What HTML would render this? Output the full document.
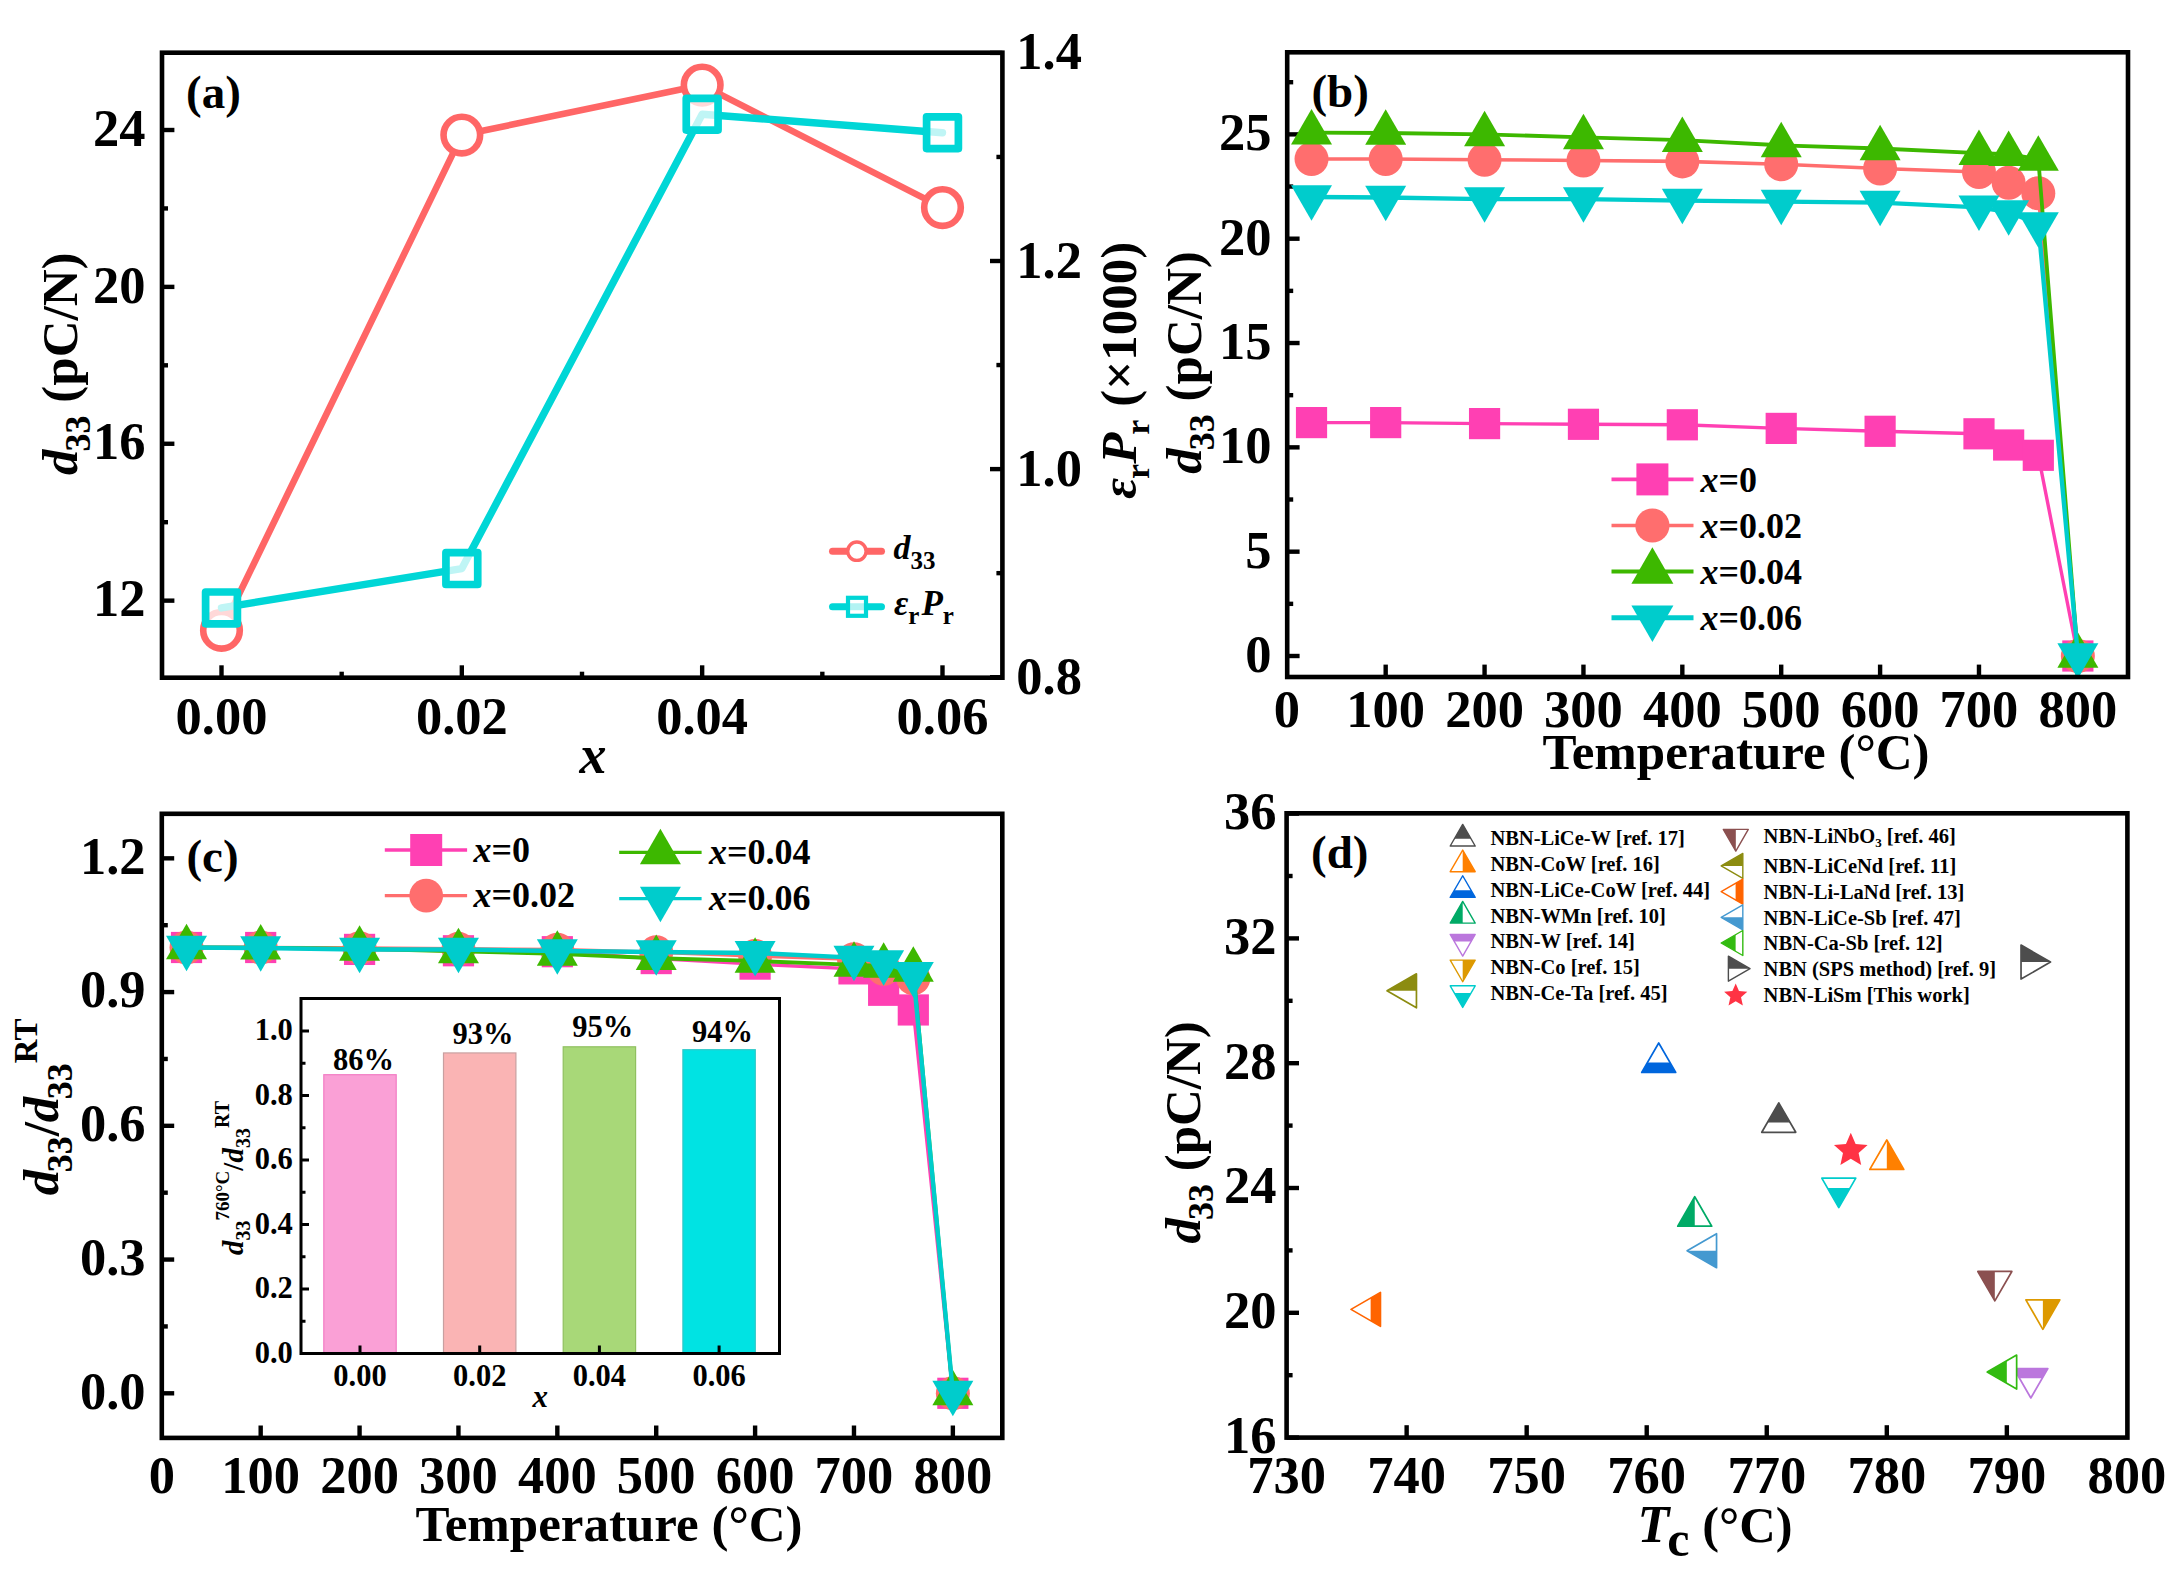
<!DOCTYPE html>
<html><head><meta charset="utf-8"><title>Figure</title>
<style>
html,body{margin:0;padding:0;background:#fff;}
svg{display:block;}
text{font-family:'Liberation Serif', 'Times New Roman', serif;}
</style></head>
<body>
<svg width="2178" height="1580" viewBox="0 0 2178 1580">
<rect x="0" y="0" width="2178" height="1580" fill="#fff"/>
<line x1="162" y1="600.64" x2="174.4" y2="600.64" stroke="#000" stroke-width="4.4" stroke-linecap="butt"/>
<text x="145.5" y="616.34" font-size="52.5" text-anchor="end" fill="#000" font-weight="bold">12</text>
<line x1="162" y1="443.76" x2="174.4" y2="443.76" stroke="#000" stroke-width="4.4" stroke-linecap="butt"/>
<text x="145.5" y="459.46" font-size="52.5" text-anchor="end" fill="#000" font-weight="bold">16</text>
<line x1="162" y1="286.88" x2="174.4" y2="286.88" stroke="#000" stroke-width="4.4" stroke-linecap="butt"/>
<text x="145.5" y="302.58" font-size="52.5" text-anchor="end" fill="#000" font-weight="bold">20</text>
<line x1="162" y1="130" x2="174.4" y2="130" stroke="#000" stroke-width="4.4" stroke-linecap="butt"/>
<text x="145.5" y="145.7" font-size="52.5" text-anchor="end" fill="#000" font-weight="bold">24</text>
<line x1="162" y1="522.2" x2="168" y2="522.2" stroke="#000" stroke-width="4.4" stroke-linecap="butt"/>
<line x1="162" y1="365.32" x2="168" y2="365.32" stroke="#000" stroke-width="4.4" stroke-linecap="butt"/>
<line x1="162" y1="208.44" x2="168" y2="208.44" stroke="#000" stroke-width="4.4" stroke-linecap="butt"/>
<line x1="1002.4" y1="677.2" x2="990" y2="677.2" stroke="#000" stroke-width="4.4" stroke-linecap="butt"/>
<text x="1016.3" y="693.7" font-size="52.5" text-anchor="start" fill="#000" font-weight="bold">0.8</text>
<line x1="1002.4" y1="469.1" x2="990" y2="469.1" stroke="#000" stroke-width="4.4" stroke-linecap="butt"/>
<text x="1016.3" y="485.6" font-size="52.5" text-anchor="start" fill="#000" font-weight="bold">1.0</text>
<line x1="1002.4" y1="261" x2="990" y2="261" stroke="#000" stroke-width="4.4" stroke-linecap="butt"/>
<text x="1016.3" y="277.5" font-size="52.5" text-anchor="start" fill="#000" font-weight="bold">1.2</text>
<line x1="1002.4" y1="52.9" x2="990" y2="52.9" stroke="#000" stroke-width="4.4" stroke-linecap="butt"/>
<text x="1016.3" y="69.4" font-size="52.5" text-anchor="start" fill="#000" font-weight="bold">1.4</text>
<line x1="1002.4" y1="573.15" x2="996.4" y2="573.15" stroke="#000" stroke-width="4.4" stroke-linecap="butt"/>
<line x1="1002.4" y1="365.05" x2="996.4" y2="365.05" stroke="#000" stroke-width="4.4" stroke-linecap="butt"/>
<line x1="1002.4" y1="156.95" x2="996.4" y2="156.95" stroke="#000" stroke-width="4.4" stroke-linecap="butt"/>
<line x1="221.5" y1="677.7" x2="221.5" y2="665.3" stroke="#000" stroke-width="4.4" stroke-linecap="butt"/>
<text x="221.5" y="734.2" font-size="52.5" text-anchor="middle" fill="#000" font-weight="bold">0.00</text>
<line x1="461.83" y1="677.7" x2="461.83" y2="665.3" stroke="#000" stroke-width="4.4" stroke-linecap="butt"/>
<text x="461.83" y="734.2" font-size="52.5" text-anchor="middle" fill="#000" font-weight="bold">0.02</text>
<line x1="702.16" y1="677.7" x2="702.16" y2="665.3" stroke="#000" stroke-width="4.4" stroke-linecap="butt"/>
<text x="702.16" y="734.2" font-size="52.5" text-anchor="middle" fill="#000" font-weight="bold">0.04</text>
<line x1="942.49" y1="677.7" x2="942.49" y2="665.3" stroke="#000" stroke-width="4.4" stroke-linecap="butt"/>
<text x="942.49" y="734.2" font-size="52.5" text-anchor="middle" fill="#000" font-weight="bold">0.06</text>
<line x1="341.67" y1="677.7" x2="341.67" y2="671.7" stroke="#000" stroke-width="4.4" stroke-linecap="butt"/>
<line x1="582" y1="677.7" x2="582" y2="671.7" stroke="#000" stroke-width="4.4" stroke-linecap="butt"/>
<line x1="822.33" y1="677.7" x2="822.33" y2="671.7" stroke="#000" stroke-width="4.4" stroke-linecap="butt"/>
<polyline points="221.5,630.3 461.83,135.1 702.16,85.1 942.49,207.6" fill="none" stroke="#FF6666" stroke-width="6.6" stroke-linejoin="round" stroke-linecap="round"/>
<circle cx="221.5" cy="630.3" r="18.3" fill="#fff" stroke="#FF6666" stroke-width="6.6"/>
<circle cx="461.83" cy="135.1" r="18.3" fill="#fff" stroke="#FF6666" stroke-width="6.6"/>
<circle cx="702.16" cy="85.1" r="18.3" fill="#fff" stroke="#FF6666" stroke-width="6.6"/>
<circle cx="942.49" cy="207.6" r="18.3" fill="#fff" stroke="#FF6666" stroke-width="6.6"/>
<polyline points="221.5,607.9 461.83,568.6 702.16,114.2 942.49,132.7" fill="none" stroke="#00D6D6" stroke-width="7.4" stroke-linejoin="round" stroke-linecap="round"/>
<rect x="205.6" y="592" width="31.8" height="31.8" fill="#fff" stroke="#00D6D6" stroke-width="7.7" fill-opacity="0.75" stroke-linejoin="round"/>
<rect x="445.93" y="552.7" width="31.8" height="31.8" fill="#fff" stroke="#00D6D6" stroke-width="7.7" fill-opacity="0.75" stroke-linejoin="round"/>
<rect x="686.26" y="98.3" width="31.8" height="31.8" fill="#fff" stroke="#00D6D6" stroke-width="7.7" fill-opacity="0.75" stroke-linejoin="round"/>
<rect x="926.59" y="116.8" width="31.8" height="31.8" fill="#fff" stroke="#00D6D6" stroke-width="7.7" fill-opacity="0.75" stroke-linejoin="round"/>
<line x1="832.5" y1="551.2" x2="881.5" y2="551.2" stroke="#FF6666" stroke-width="7" stroke-linecap="round"/>
<circle cx="856.9" cy="551.2" r="9.2" fill="#fff" stroke="#FF6666" stroke-width="3.4"/>
<text x="893.5" y="558.6" font-size="34" font-weight="bold" fill="#000"><tspan font-style="italic">d</tspan><tspan font-size="25" dy="10">33</tspan></text>
<line x1="832.5" y1="606.8" x2="881.5" y2="606.8" stroke="#00D6D6" stroke-width="7" stroke-linecap="round"/>
<rect x="848" y="597.8" width="18" height="18" fill="#fff" stroke="#00D6D6" stroke-width="4.2" fill-opacity="0.7"/>
<text x="894" y="614.6" font-size="35" font-weight="bold" fill="#000"><tspan font-style="italic">ε</tspan><tspan font-size="25" dy="9">r</tspan><tspan font-style="italic" dx="2" dy="-9">P</tspan><tspan font-size="25" dy="9">r</tspan></text>
<text x="186" y="107.8" font-size="47" text-anchor="start" fill="#000" font-weight="bold">(a)</text>
<text x="579.5" y="772.5" font-size="54" text-anchor="start" font-style="italic" fill="#000" font-weight="bold">x</text>
<text transform="translate(77,363.7) rotate(-90)" text-anchor="middle" font-size="51" font-weight="bold" fill="#000"><tspan font-style="italic">d</tspan><tspan font-size="36" dx="-2" dy="13">33</tspan><tspan dy="-13"> (pC/N)</tspan></text>
<text transform="translate(1135.6,370.3) rotate(-90)" text-anchor="middle" font-size="51" font-weight="bold" fill="#000"><tspan font-style="italic">ε</tspan><tspan font-size="34" dx="-1" dy="13">r</tspan><tspan font-style="italic" dy="-13">P</tspan><tspan font-size="34" dx="-2" dy="13">r</tspan><tspan dy="-13"> (×1000)</tspan></text>
<rect x="162" y="52.7" width="840.4" height="625" fill="none" stroke="#000" stroke-width="4.6" stroke-linejoin="miter"/>
<line x1="1287.2" y1="656" x2="1299.6" y2="656" stroke="#000" stroke-width="4.4" stroke-linecap="butt"/>
<text x="1271.5" y="672" font-size="52.5" text-anchor="end" fill="#000" font-weight="bold">0</text>
<line x1="1287.2" y1="551.67" x2="1299.6" y2="551.67" stroke="#000" stroke-width="4.4" stroke-linecap="butt"/>
<text x="1271.5" y="567.67" font-size="52.5" text-anchor="end" fill="#000" font-weight="bold">5</text>
<line x1="1287.2" y1="447.35" x2="1299.6" y2="447.35" stroke="#000" stroke-width="4.4" stroke-linecap="butt"/>
<text x="1271.5" y="463.35" font-size="52.5" text-anchor="end" fill="#000" font-weight="bold">10</text>
<line x1="1287.2" y1="343.03" x2="1299.6" y2="343.03" stroke="#000" stroke-width="4.4" stroke-linecap="butt"/>
<text x="1271.5" y="359.03" font-size="52.5" text-anchor="end" fill="#000" font-weight="bold">15</text>
<line x1="1287.2" y1="238.7" x2="1299.6" y2="238.7" stroke="#000" stroke-width="4.4" stroke-linecap="butt"/>
<text x="1271.5" y="254.7" font-size="52.5" text-anchor="end" fill="#000" font-weight="bold">20</text>
<line x1="1287.2" y1="134.38" x2="1299.6" y2="134.38" stroke="#000" stroke-width="4.4" stroke-linecap="butt"/>
<text x="1271.5" y="150.38" font-size="52.5" text-anchor="end" fill="#000" font-weight="bold">25</text>
<line x1="1287.2" y1="603.84" x2="1293.2" y2="603.84" stroke="#000" stroke-width="4.4" stroke-linecap="butt"/>
<line x1="1287.2" y1="499.51" x2="1293.2" y2="499.51" stroke="#000" stroke-width="4.4" stroke-linecap="butt"/>
<line x1="1287.2" y1="395.19" x2="1293.2" y2="395.19" stroke="#000" stroke-width="4.4" stroke-linecap="butt"/>
<line x1="1287.2" y1="290.86" x2="1293.2" y2="290.86" stroke="#000" stroke-width="4.4" stroke-linecap="butt"/>
<line x1="1287.2" y1="186.54" x2="1293.2" y2="186.54" stroke="#000" stroke-width="4.4" stroke-linecap="butt"/>
<line x1="1287.2" y1="82.21" x2="1293.2" y2="82.21" stroke="#000" stroke-width="4.4" stroke-linecap="butt"/>
<text x="1286.8" y="727.3" font-size="52.5" text-anchor="middle" fill="#000" font-weight="bold">0</text>
<line x1="1385.68" y1="677" x2="1385.68" y2="664.6" stroke="#000" stroke-width="4.4" stroke-linecap="butt"/>
<text x="1385.68" y="727.3" font-size="52.5" text-anchor="middle" fill="#000" font-weight="bold">100</text>
<line x1="1484.57" y1="677" x2="1484.57" y2="664.6" stroke="#000" stroke-width="4.4" stroke-linecap="butt"/>
<text x="1484.57" y="727.3" font-size="52.5" text-anchor="middle" fill="#000" font-weight="bold">200</text>
<line x1="1583.45" y1="677" x2="1583.45" y2="664.6" stroke="#000" stroke-width="4.4" stroke-linecap="butt"/>
<text x="1583.45" y="727.3" font-size="52.5" text-anchor="middle" fill="#000" font-weight="bold">300</text>
<line x1="1682.33" y1="677" x2="1682.33" y2="664.6" stroke="#000" stroke-width="4.4" stroke-linecap="butt"/>
<text x="1682.33" y="727.3" font-size="52.5" text-anchor="middle" fill="#000" font-weight="bold">400</text>
<line x1="1781.21" y1="677" x2="1781.21" y2="664.6" stroke="#000" stroke-width="4.4" stroke-linecap="butt"/>
<text x="1781.21" y="727.3" font-size="52.5" text-anchor="middle" fill="#000" font-weight="bold">500</text>
<line x1="1880.1" y1="677" x2="1880.1" y2="664.6" stroke="#000" stroke-width="4.4" stroke-linecap="butt"/>
<text x="1880.1" y="727.3" font-size="52.5" text-anchor="middle" fill="#000" font-weight="bold">600</text>
<line x1="1978.98" y1="677" x2="1978.98" y2="664.6" stroke="#000" stroke-width="4.4" stroke-linecap="butt"/>
<text x="1978.98" y="727.3" font-size="52.5" text-anchor="middle" fill="#000" font-weight="bold">700</text>
<line x1="2077.86" y1="677" x2="2077.86" y2="664.6" stroke="#000" stroke-width="4.4" stroke-linecap="butt"/>
<text x="2077.86" y="727.3" font-size="52.5" text-anchor="middle" fill="#000" font-weight="bold">800</text>
<polyline points="1311.52,422.6 1385.68,422.6 1484.57,423.6 1583.45,424.3 1682.33,424.8 1781.21,428.4 1880.1,431.3 1978.98,433.8 2008.65,445 2038.31,455.3 2077.86,656" fill="none" stroke="#FF40B3" stroke-width="3.4" stroke-linejoin="round" stroke-linecap="round"/>
<rect x="1295.92" y="407" width="31.2" height="31.2" fill="#FF40B3" stroke="none" stroke-width="0"/>
<rect x="1370.08" y="407" width="31.2" height="31.2" fill="#FF40B3" stroke="none" stroke-width="0"/>
<rect x="1468.97" y="408" width="31.2" height="31.2" fill="#FF40B3" stroke="none" stroke-width="0"/>
<rect x="1567.85" y="408.7" width="31.2" height="31.2" fill="#FF40B3" stroke="none" stroke-width="0"/>
<rect x="1666.73" y="409.2" width="31.2" height="31.2" fill="#FF40B3" stroke="none" stroke-width="0"/>
<rect x="1765.62" y="412.8" width="31.2" height="31.2" fill="#FF40B3" stroke="none" stroke-width="0"/>
<rect x="1864.5" y="415.7" width="31.2" height="31.2" fill="#FF40B3" stroke="none" stroke-width="0"/>
<rect x="1963.38" y="418.2" width="31.2" height="31.2" fill="#FF40B3" stroke="none" stroke-width="0"/>
<rect x="1993.05" y="429.4" width="31.2" height="31.2" fill="#FF40B3" stroke="none" stroke-width="0"/>
<rect x="2022.71" y="439.7" width="31.2" height="31.2" fill="#FF40B3" stroke="none" stroke-width="0"/>
<rect x="2062.26" y="640.4" width="31.2" height="31.2" fill="#FF40B3" stroke="none" stroke-width="0"/>
<polyline points="1311.52,159 1385.68,159 1484.57,159.7 1583.45,160.5 1682.33,161.4 1781.21,164.3 1880.1,168.5 1978.98,172 2008.65,182.8 2038.31,193.2 2077.86,656" fill="none" stroke="#FF6E6E" stroke-width="3.6" stroke-linejoin="round" stroke-linecap="round"/>
<circle cx="1311.52" cy="159" r="17" fill="#FF6E6E" stroke="none" stroke-width="0"/>
<circle cx="1385.68" cy="159" r="17" fill="#FF6E6E" stroke="none" stroke-width="0"/>
<circle cx="1484.57" cy="159.7" r="17" fill="#FF6E6E" stroke="none" stroke-width="0"/>
<circle cx="1583.45" cy="160.5" r="17" fill="#FF6E6E" stroke="none" stroke-width="0"/>
<circle cx="1682.33" cy="161.4" r="17" fill="#FF6E6E" stroke="none" stroke-width="0"/>
<circle cx="1781.21" cy="164.3" r="17" fill="#FF6E6E" stroke="none" stroke-width="0"/>
<circle cx="1880.1" cy="168.5" r="17" fill="#FF6E6E" stroke="none" stroke-width="0"/>
<circle cx="1978.98" cy="172" r="17" fill="#FF6E6E" stroke="none" stroke-width="0"/>
<circle cx="2008.65" cy="182.8" r="17" fill="#FF6E6E" stroke="none" stroke-width="0"/>
<circle cx="2038.31" cy="193.2" r="17" fill="#FF6E6E" stroke="none" stroke-width="0"/>
<circle cx="2077.86" cy="656" r="17" fill="#FF6E6E" stroke="none" stroke-width="0"/>
<polyline points="1311.52,132.7 1385.68,133 1484.57,134.3 1583.45,137.3 1682.33,140.1 1781.21,145.3 1880.1,148.5 1978.98,153.1 2008.65,154.2 2038.31,159 2077.86,656" fill="none" stroke="#3DB800" stroke-width="3.8" stroke-linejoin="round" stroke-linecap="round"/>
<polygon points="1311.52,109.03 1332.02,144.54 1291.02,144.54" fill="#3DB800" stroke="none" stroke-width="0"/>
<polygon points="1385.68,109.33 1406.18,144.84 1365.18,144.84" fill="#3DB800" stroke="none" stroke-width="0"/>
<polygon points="1484.57,110.63 1505.07,146.14 1464.07,146.14" fill="#3DB800" stroke="none" stroke-width="0"/>
<polygon points="1583.45,113.63 1603.95,149.14 1562.95,149.14" fill="#3DB800" stroke="none" stroke-width="0"/>
<polygon points="1682.33,116.43 1702.83,151.94 1661.83,151.94" fill="#3DB800" stroke="none" stroke-width="0"/>
<polygon points="1781.21,121.63 1801.71,157.14 1760.71,157.14" fill="#3DB800" stroke="none" stroke-width="0"/>
<polygon points="1880.1,124.83 1900.6,160.34 1859.6,160.34" fill="#3DB800" stroke="none" stroke-width="0"/>
<polygon points="1978.98,129.43 1999.48,164.94 1958.48,164.94" fill="#3DB800" stroke="none" stroke-width="0"/>
<polygon points="2008.65,130.53 2029.15,166.04 1988.15,166.04" fill="#3DB800" stroke="none" stroke-width="0"/>
<polygon points="2038.31,135.33 2058.81,170.84 2017.81,170.84" fill="#3DB800" stroke="none" stroke-width="0"/>
<polygon points="2077.86,632.33 2098.36,667.84 2057.36,667.84" fill="#3DB800" stroke="none" stroke-width="0"/>
<polyline points="1311.52,197 1385.68,197.5 1484.57,199.1 1583.45,199.1 1682.33,200.6 1781.21,201.6 1880.1,202.6 1978.98,207.4 2008.65,212 2038.31,224 2077.86,655.2" fill="none" stroke="#00CCCC" stroke-width="4.4" stroke-linejoin="round" stroke-linecap="round"/>
<polygon points="1291.02,185.16 1332.02,185.16 1311.52,220.67" fill="#00CCCC" stroke="none" stroke-width="0"/>
<polygon points="1365.18,185.66 1406.18,185.66 1385.68,221.17" fill="#00CCCC" stroke="none" stroke-width="0"/>
<polygon points="1464.07,187.26 1505.07,187.26 1484.57,222.77" fill="#00CCCC" stroke="none" stroke-width="0"/>
<polygon points="1562.95,187.26 1603.95,187.26 1583.45,222.77" fill="#00CCCC" stroke="none" stroke-width="0"/>
<polygon points="1661.83,188.76 1702.83,188.76 1682.33,224.27" fill="#00CCCC" stroke="none" stroke-width="0"/>
<polygon points="1760.71,189.76 1801.71,189.76 1781.21,225.27" fill="#00CCCC" stroke="none" stroke-width="0"/>
<polygon points="1859.6,190.76 1900.6,190.76 1880.1,226.27" fill="#00CCCC" stroke="none" stroke-width="0"/>
<polygon points="1958.48,195.56 1999.48,195.56 1978.98,231.07" fill="#00CCCC" stroke="none" stroke-width="0"/>
<polygon points="1988.15,200.16 2029.15,200.16 2008.65,235.67" fill="#00CCCC" stroke="none" stroke-width="0"/>
<polygon points="2017.81,212.16 2058.81,212.16 2038.31,247.67" fill="#00CCCC" stroke="none" stroke-width="0"/>
<polygon points="2057.36,643.36 2098.36,643.36 2077.86,678.87" fill="#00CCCC" stroke="none" stroke-width="0"/>
<line x1="1611.5" y1="479.4" x2="1693.5" y2="479.4" stroke="#FF40B3" stroke-width="3.6" stroke-linecap="butt"/>
<rect x="1636.4" y="463.4" width="32" height="32" fill="#FF40B3" stroke="none" stroke-width="0"/>
<text x="1700.5" y="491.8" font-size="36" font-weight="bold" fill="#000"><tspan font-style="italic">x</tspan>=0</text>
<line x1="1611.5" y1="525.5" x2="1693.5" y2="525.5" stroke="#FF6E6E" stroke-width="3.6" stroke-linecap="butt"/>
<circle cx="1652.4" cy="525.5" r="17.1" fill="#FF6E6E" stroke="none" stroke-width="0"/>
<text x="1700.5" y="537.9" font-size="36" font-weight="bold" fill="#000"><tspan font-style="italic">x</tspan>=0.02</text>
<line x1="1611.5" y1="571.6" x2="1693.5" y2="571.6" stroke="#3DB800" stroke-width="4" stroke-linecap="butt"/>
<polygon points="1652.4,547.35 1673.4,583.72 1631.4,583.72" fill="#3DB800" stroke="none" stroke-width="0"/>
<text x="1700.5" y="584" font-size="36" font-weight="bold" fill="#000"><tspan font-style="italic">x</tspan>=0.04</text>
<line x1="1611.5" y1="617.7" x2="1693.5" y2="617.7" stroke="#00CCCC" stroke-width="5" stroke-linecap="butt"/>
<polygon points="1631.4,605.58 1673.4,605.58 1652.4,641.95" fill="#00CCCC" stroke="none" stroke-width="0"/>
<text x="1700.5" y="630.1" font-size="36" font-weight="bold" fill="#000"><tspan font-style="italic">x</tspan>=0.06</text>
<text x="1311.4" y="106.5" font-size="47" text-anchor="start" fill="#000" font-weight="bold">(b)</text>
<text x="1736" y="768.7" font-size="51" text-anchor="middle" fill="#000" font-weight="bold">Temperature (°C)</text>
<text transform="translate(1201,362.5) rotate(-90)" text-anchor="middle" font-size="51" font-weight="bold" fill="#000"><tspan font-style="italic">d</tspan><tspan font-size="36" dx="-2" dy="13">33</tspan><tspan dy="-13"> (pC/N)</tspan></text>
<rect x="1287.2" y="52.3" width="840.8" height="624.7" fill="none" stroke="#000" stroke-width="4.6" stroke-linejoin="miter"/>
<line x1="161.8" y1="1393.3" x2="174.2" y2="1393.3" stroke="#000" stroke-width="4.4" stroke-linecap="butt"/>
<text x="145.5" y="1408.6" font-size="52.5" text-anchor="end" fill="#000" font-weight="bold">0.0</text>
<line x1="161.8" y1="1259.56" x2="174.2" y2="1259.56" stroke="#000" stroke-width="4.4" stroke-linecap="butt"/>
<text x="145.5" y="1274.86" font-size="52.5" text-anchor="end" fill="#000" font-weight="bold">0.3</text>
<line x1="161.8" y1="1125.82" x2="174.2" y2="1125.82" stroke="#000" stroke-width="4.4" stroke-linecap="butt"/>
<text x="145.5" y="1141.12" font-size="52.5" text-anchor="end" fill="#000" font-weight="bold">0.6</text>
<line x1="161.8" y1="992.08" x2="174.2" y2="992.08" stroke="#000" stroke-width="4.4" stroke-linecap="butt"/>
<text x="145.5" y="1007.38" font-size="52.5" text-anchor="end" fill="#000" font-weight="bold">0.9</text>
<line x1="161.8" y1="858.34" x2="174.2" y2="858.34" stroke="#000" stroke-width="4.4" stroke-linecap="butt"/>
<text x="145.5" y="873.64" font-size="52.5" text-anchor="end" fill="#000" font-weight="bold">1.2</text>
<line x1="161.8" y1="1326.43" x2="167.8" y2="1326.43" stroke="#000" stroke-width="4.4" stroke-linecap="butt"/>
<line x1="161.8" y1="1192.69" x2="167.8" y2="1192.69" stroke="#000" stroke-width="4.4" stroke-linecap="butt"/>
<line x1="161.8" y1="1058.95" x2="167.8" y2="1058.95" stroke="#000" stroke-width="4.4" stroke-linecap="butt"/>
<line x1="161.8" y1="925.21" x2="167.8" y2="925.21" stroke="#000" stroke-width="4.4" stroke-linecap="butt"/>
<text x="161.8" y="1493.2" font-size="52.5" text-anchor="middle" fill="#000" font-weight="bold">0</text>
<line x1="260.68" y1="1437.9" x2="260.68" y2="1425.5" stroke="#000" stroke-width="4.4" stroke-linecap="butt"/>
<text x="260.68" y="1493.2" font-size="52.5" text-anchor="middle" fill="#000" font-weight="bold">100</text>
<line x1="359.57" y1="1437.9" x2="359.57" y2="1425.5" stroke="#000" stroke-width="4.4" stroke-linecap="butt"/>
<text x="359.57" y="1493.2" font-size="52.5" text-anchor="middle" fill="#000" font-weight="bold">200</text>
<line x1="458.45" y1="1437.9" x2="458.45" y2="1425.5" stroke="#000" stroke-width="4.4" stroke-linecap="butt"/>
<text x="458.45" y="1493.2" font-size="52.5" text-anchor="middle" fill="#000" font-weight="bold">300</text>
<line x1="557.33" y1="1437.9" x2="557.33" y2="1425.5" stroke="#000" stroke-width="4.4" stroke-linecap="butt"/>
<text x="557.33" y="1493.2" font-size="52.5" text-anchor="middle" fill="#000" font-weight="bold">400</text>
<line x1="656.22" y1="1437.9" x2="656.22" y2="1425.5" stroke="#000" stroke-width="4.4" stroke-linecap="butt"/>
<text x="656.22" y="1493.2" font-size="52.5" text-anchor="middle" fill="#000" font-weight="bold">500</text>
<line x1="755.1" y1="1437.9" x2="755.1" y2="1425.5" stroke="#000" stroke-width="4.4" stroke-linecap="butt"/>
<text x="755.1" y="1493.2" font-size="52.5" text-anchor="middle" fill="#000" font-weight="bold">600</text>
<line x1="853.98" y1="1437.9" x2="853.98" y2="1425.5" stroke="#000" stroke-width="4.4" stroke-linecap="butt"/>
<text x="853.98" y="1493.2" font-size="52.5" text-anchor="middle" fill="#000" font-weight="bold">700</text>
<line x1="952.86" y1="1437.9" x2="952.86" y2="1425.5" stroke="#000" stroke-width="4.4" stroke-linecap="butt"/>
<text x="952.86" y="1493.2" font-size="52.5" text-anchor="middle" fill="#000" font-weight="bold">800</text>
<polyline points="186.52,947.5 260.68,947.5 359.57,949.41 458.45,950.75 557.33,951.7 656.22,958.58 755.1,964.12 853.98,968.89 883.65,990.28 913.31,1009.96 952.86,1393.3" fill="none" stroke="#FF40B3" stroke-width="3.4" stroke-linejoin="round" stroke-linecap="round"/>
<rect x="170.92" y="931.9" width="31.2" height="31.2" fill="#FF40B3" stroke="none" stroke-width="0"/>
<rect x="245.08" y="931.9" width="31.2" height="31.2" fill="#FF40B3" stroke="none" stroke-width="0"/>
<rect x="343.97" y="933.81" width="31.2" height="31.2" fill="#FF40B3" stroke="none" stroke-width="0"/>
<rect x="442.85" y="935.15" width="31.2" height="31.2" fill="#FF40B3" stroke="none" stroke-width="0"/>
<rect x="541.73" y="936.1" width="31.2" height="31.2" fill="#FF40B3" stroke="none" stroke-width="0"/>
<rect x="640.62" y="942.98" width="31.2" height="31.2" fill="#FF40B3" stroke="none" stroke-width="0"/>
<rect x="739.5" y="948.52" width="31.2" height="31.2" fill="#FF40B3" stroke="none" stroke-width="0"/>
<rect x="838.38" y="953.29" width="31.2" height="31.2" fill="#FF40B3" stroke="none" stroke-width="0"/>
<rect x="868.05" y="974.68" width="31.2" height="31.2" fill="#FF40B3" stroke="none" stroke-width="0"/>
<rect x="897.71" y="994.36" width="31.2" height="31.2" fill="#FF40B3" stroke="none" stroke-width="0"/>
<rect x="937.26" y="1377.7" width="31.2" height="31.2" fill="#FF40B3" stroke="none" stroke-width="0"/>
<polyline points="186.52,947.5 260.68,947.5 359.57,948.13 458.45,948.85 557.33,949.65 656.22,952.25 755.1,956.02 853.98,959.16 883.65,968.85 913.31,978.18 952.86,1393.3" fill="none" stroke="#FF6E6E" stroke-width="3.6" stroke-linejoin="round" stroke-linecap="round"/>
<circle cx="186.52" cy="947.5" r="17" fill="#FF6E6E" stroke="none" stroke-width="0"/>
<circle cx="260.68" cy="947.5" r="17" fill="#FF6E6E" stroke="none" stroke-width="0"/>
<circle cx="359.57" cy="948.13" r="17" fill="#FF6E6E" stroke="none" stroke-width="0"/>
<circle cx="458.45" cy="948.85" r="17" fill="#FF6E6E" stroke="none" stroke-width="0"/>
<circle cx="557.33" cy="949.65" r="17" fill="#FF6E6E" stroke="none" stroke-width="0"/>
<circle cx="656.22" cy="952.25" r="17" fill="#FF6E6E" stroke="none" stroke-width="0"/>
<circle cx="755.1" cy="956.02" r="17" fill="#FF6E6E" stroke="none" stroke-width="0"/>
<circle cx="853.98" cy="959.16" r="17" fill="#FF6E6E" stroke="none" stroke-width="0"/>
<circle cx="883.65" cy="968.85" r="17" fill="#FF6E6E" stroke="none" stroke-width="0"/>
<circle cx="913.31" cy="978.18" r="17" fill="#FF6E6E" stroke="none" stroke-width="0"/>
<circle cx="952.86" cy="1393.3" r="17" fill="#FF6E6E" stroke="none" stroke-width="0"/>
<polyline points="186.52,947.5 260.68,947.76 359.57,948.86 458.45,951.42 557.33,953.8 656.22,958.23 755.1,960.96 853.98,964.88 883.65,965.82 913.31,969.91 952.86,1393.3" fill="none" stroke="#3DB800" stroke-width="3.8" stroke-linejoin="round" stroke-linecap="round"/>
<polygon points="186.52,923.83 207.02,959.34 166.02,959.34" fill="#3DB800" stroke="none" stroke-width="0"/>
<polygon points="260.68,924.08 281.18,959.59 240.18,959.59" fill="#3DB800" stroke="none" stroke-width="0"/>
<polygon points="359.57,925.19 380.07,960.7 339.07,960.7" fill="#3DB800" stroke="none" stroke-width="0"/>
<polygon points="458.45,927.75 478.95,963.25 437.95,963.25" fill="#3DB800" stroke="none" stroke-width="0"/>
<polygon points="557.33,930.13 577.83,965.64 536.83,965.64" fill="#3DB800" stroke="none" stroke-width="0"/>
<polygon points="656.22,934.56 676.72,970.07 635.72,970.07" fill="#3DB800" stroke="none" stroke-width="0"/>
<polygon points="755.1,937.29 775.6,972.8 734.6,972.8" fill="#3DB800" stroke="none" stroke-width="0"/>
<polygon points="853.98,941.21 874.48,976.71 833.48,976.71" fill="#3DB800" stroke="none" stroke-width="0"/>
<polygon points="883.65,942.14 904.15,977.65 863.15,977.65" fill="#3DB800" stroke="none" stroke-width="0"/>
<polygon points="913.31,946.23 933.81,981.74 892.81,981.74" fill="#3DB800" stroke="none" stroke-width="0"/>
<polygon points="952.86,1369.63 973.36,1405.14 932.36,1405.14" fill="#3DB800" stroke="none" stroke-width="0"/>
<polyline points="186.52,947.5 260.68,947.99 359.57,949.54 458.45,949.54 557.33,951 656.22,951.97 755.1,952.94 853.98,957.6 883.65,962.07 913.31,973.72 952.86,1392.52" fill="none" stroke="#00CCCC" stroke-width="4.4" stroke-linejoin="round" stroke-linecap="round"/>
<polygon points="166.02,935.66 207.02,935.66 186.52,971.17" fill="#00CCCC" stroke="none" stroke-width="0"/>
<polygon points="240.18,936.15 281.18,936.15 260.68,971.66" fill="#00CCCC" stroke="none" stroke-width="0"/>
<polygon points="339.07,937.7 380.07,937.7 359.57,973.21" fill="#00CCCC" stroke="none" stroke-width="0"/>
<polygon points="437.95,937.7 478.95,937.7 458.45,973.21" fill="#00CCCC" stroke="none" stroke-width="0"/>
<polygon points="536.83,939.16 577.83,939.16 557.33,974.67" fill="#00CCCC" stroke="none" stroke-width="0"/>
<polygon points="635.72,940.13 676.72,940.13 656.22,975.64" fill="#00CCCC" stroke="none" stroke-width="0"/>
<polygon points="734.6,941.1 775.6,941.1 755.1,976.61" fill="#00CCCC" stroke="none" stroke-width="0"/>
<polygon points="833.48,945.77 874.48,945.77 853.98,981.27" fill="#00CCCC" stroke="none" stroke-width="0"/>
<polygon points="863.15,950.23 904.15,950.23 883.65,985.74" fill="#00CCCC" stroke="none" stroke-width="0"/>
<polygon points="892.81,961.89 933.81,961.89 913.31,997.39" fill="#00CCCC" stroke="none" stroke-width="0"/>
<polygon points="932.36,1380.69 973.36,1380.69 952.86,1416.19" fill="#00CCCC" stroke="none" stroke-width="0"/>
<line x1="384.8" y1="850" x2="467.1" y2="850" stroke="#FF40B3" stroke-width="3.4" stroke-linecap="butt"/>
<rect x="410.2" y="834" width="32" height="32" fill="#FF40B3" stroke="none" stroke-width="0"/>
<text x="473.5" y="862.2" font-size="36" font-weight="bold" fill="#000"><tspan font-style="italic">x</tspan>=0</text>
<line x1="384.8" y1="895.6" x2="467.1" y2="895.6" stroke="#FF6E6E" stroke-width="3.4" stroke-linecap="butt"/>
<circle cx="426.2" cy="895.6" r="16.9" fill="#FF6E6E" stroke="none" stroke-width="0"/>
<text x="473.5" y="907.1" font-size="36" font-weight="bold" fill="#000"><tspan font-style="italic">x</tspan>=0.02</text>
<line x1="619.2" y1="852.4" x2="701.6" y2="852.4" stroke="#3DB800" stroke-width="3.4" stroke-linecap="butt"/>
<polygon points="660.4,828.73 680.9,864.24 639.9,864.24" fill="#3DB800" stroke="none" stroke-width="0"/>
<text x="709" y="864" font-size="36" font-weight="bold" fill="#000"><tspan font-style="italic">x</tspan>=0.04</text>
<line x1="619.2" y1="898.6" x2="701.6" y2="898.6" stroke="#00CCCC" stroke-width="3.4" stroke-linecap="butt"/>
<polygon points="639.9,886.76 680.9,886.76 660.4,922.27" fill="#00CCCC" stroke="none" stroke-width="0"/>
<text x="709" y="910.3" font-size="36" font-weight="bold" fill="#000"><tspan font-style="italic">x</tspan>=0.06</text>
<rect x="301" y="998.5" width="478.5" height="355" fill="#fff" stroke="none" stroke-width="0"/>
<rect x="323.8" y="1074.7" width="72.4" height="278.8" fill="#FAA0D6" stroke="#F27CC4" stroke-width="1.2"/>
<text x="363.4" y="1069.5" font-size="30.5" text-anchor="middle" fill="#000" font-weight="bold">86%</text>
<rect x="443.5" y="1052.93" width="72.4" height="300.57" fill="#FAB4B4" stroke="#C8A0A0" stroke-width="1.2"/>
<text x="483.1" y="1043.5" font-size="30.5" text-anchor="middle" fill="#000" font-weight="bold">93%</text>
<rect x="563.2" y="1046.8" width="72.4" height="306.7" fill="#A8D878" stroke="#90C060" stroke-width="1.2"/>
<text x="602.8" y="1036.5" font-size="30.5" text-anchor="middle" fill="#000" font-weight="bold">95%</text>
<rect x="682.9" y="1049.7" width="72.4" height="303.8" fill="#00E3E3" stroke="#30C8C8" stroke-width="1.2"/>
<text x="722.5" y="1042" font-size="30.5" text-anchor="middle" fill="#000" font-weight="bold">94%</text>
<line x1="301" y1="1353.5" x2="309" y2="1353.5" stroke="#000" stroke-width="3" stroke-linecap="butt"/>
<text x="292.8" y="1362.5" font-size="30.5" text-anchor="end" fill="#000" font-weight="bold">0.0</text>
<line x1="301" y1="1289" x2="309" y2="1289" stroke="#000" stroke-width="3" stroke-linecap="butt"/>
<text x="292.8" y="1298" font-size="30.5" text-anchor="end" fill="#000" font-weight="bold">0.2</text>
<line x1="301" y1="1224.5" x2="309" y2="1224.5" stroke="#000" stroke-width="3" stroke-linecap="butt"/>
<text x="292.8" y="1233.5" font-size="30.5" text-anchor="end" fill="#000" font-weight="bold">0.4</text>
<line x1="301" y1="1160" x2="309" y2="1160" stroke="#000" stroke-width="3" stroke-linecap="butt"/>
<text x="292.8" y="1169" font-size="30.5" text-anchor="end" fill="#000" font-weight="bold">0.6</text>
<line x1="301" y1="1095.5" x2="309" y2="1095.5" stroke="#000" stroke-width="3" stroke-linecap="butt"/>
<text x="292.8" y="1104.5" font-size="30.5" text-anchor="end" fill="#000" font-weight="bold">0.8</text>
<line x1="301" y1="1031" x2="309" y2="1031" stroke="#000" stroke-width="3" stroke-linecap="butt"/>
<text x="292.8" y="1040" font-size="30.5" text-anchor="end" fill="#000" font-weight="bold">1.0</text>
<line x1="301" y1="1321.25" x2="305.5" y2="1321.25" stroke="#000" stroke-width="3" stroke-linecap="butt"/>
<line x1="301" y1="1256.75" x2="305.5" y2="1256.75" stroke="#000" stroke-width="3" stroke-linecap="butt"/>
<line x1="301" y1="1192.25" x2="305.5" y2="1192.25" stroke="#000" stroke-width="3" stroke-linecap="butt"/>
<line x1="301" y1="1127.75" x2="305.5" y2="1127.75" stroke="#000" stroke-width="3" stroke-linecap="butt"/>
<line x1="301" y1="1063.25" x2="305.5" y2="1063.25" stroke="#000" stroke-width="3" stroke-linecap="butt"/>
<line x1="360" y1="1353.5" x2="360" y2="1345.5" stroke="#000" stroke-width="3" stroke-linecap="butt"/>
<text x="360" y="1385.5" font-size="30.5" text-anchor="middle" fill="#000" font-weight="bold">0.00</text>
<line x1="479.7" y1="1353.5" x2="479.7" y2="1345.5" stroke="#000" stroke-width="3" stroke-linecap="butt"/>
<text x="479.7" y="1385.5" font-size="30.5" text-anchor="middle" fill="#000" font-weight="bold">0.02</text>
<line x1="599.4" y1="1353.5" x2="599.4" y2="1345.5" stroke="#000" stroke-width="3" stroke-linecap="butt"/>
<text x="599.4" y="1385.5" font-size="30.5" text-anchor="middle" fill="#000" font-weight="bold">0.04</text>
<line x1="719.1" y1="1353.5" x2="719.1" y2="1345.5" stroke="#000" stroke-width="3" stroke-linecap="butt"/>
<text x="719.1" y="1385.5" font-size="30.5" text-anchor="middle" fill="#000" font-weight="bold">0.06</text>
<rect x="301" y="998.5" width="478.5" height="355" fill="none" stroke="#000" stroke-width="3"/>
<text x="532.5" y="1407" font-size="31" text-anchor="start" font-style="italic" fill="#000" font-weight="bold">x</text>
<text transform="translate(243,1178) rotate(-90)" text-anchor="middle" font-size="29" font-weight="bold" fill="#000"><tspan font-style="italic">d</tspan><tspan font-size="20" dy="7">33</tspan><tspan font-size="19" dy="-21">760°C</tspan><tspan dy="14">/</tspan><tspan font-style="italic">d</tspan><tspan font-size="20" dy="7">33</tspan><tspan font-size="20" dy="-21">RT</tspan></text>
<text x="186.4" y="871.7" font-size="47" text-anchor="start" fill="#000" font-weight="bold">(c)</text>
<text x="609" y="1541.2" font-size="51" text-anchor="middle" fill="#000" font-weight="bold">Temperature (°C)</text>
<text transform="translate(57.8,1106.9) rotate(-90)" text-anchor="middle" font-size="51" font-weight="bold" fill="#000"><tspan font-style="italic">d</tspan><tspan font-size="36" dx="-2.5" dy="14.6">33</tspan><tspan dy="-14.6">/</tspan><tspan font-style="italic">d</tspan><tspan font-size="36" dx="-2.5" dy="14.6">33</tspan><tspan font-size="33" dy="-35.6">RT</tspan></text>
<rect x="161.8" y="813.8" width="840.5" height="624.1" fill="none" stroke="#000" stroke-width="4.6" stroke-linejoin="miter"/>
<line x1="1286.6" y1="1437.6" x2="1299" y2="1437.6" stroke="#000" stroke-width="4.4" stroke-linecap="butt"/>
<text x="1276.5" y="1453" font-size="52.5" text-anchor="end" fill="#000" font-weight="bold">16</text>
<line x1="1286.6" y1="1312.8" x2="1299" y2="1312.8" stroke="#000" stroke-width="4.4" stroke-linecap="butt"/>
<text x="1276.5" y="1328.2" font-size="52.5" text-anchor="end" fill="#000" font-weight="bold">20</text>
<line x1="1286.6" y1="1188" x2="1299" y2="1188" stroke="#000" stroke-width="4.4" stroke-linecap="butt"/>
<text x="1276.5" y="1203.4" font-size="52.5" text-anchor="end" fill="#000" font-weight="bold">24</text>
<line x1="1286.6" y1="1063.2" x2="1299" y2="1063.2" stroke="#000" stroke-width="4.4" stroke-linecap="butt"/>
<text x="1276.5" y="1078.6" font-size="52.5" text-anchor="end" fill="#000" font-weight="bold">28</text>
<line x1="1286.6" y1="938.4" x2="1299" y2="938.4" stroke="#000" stroke-width="4.4" stroke-linecap="butt"/>
<text x="1276.5" y="953.8" font-size="52.5" text-anchor="end" fill="#000" font-weight="bold">32</text>
<line x1="1286.6" y1="813.6" x2="1299" y2="813.6" stroke="#000" stroke-width="4.4" stroke-linecap="butt"/>
<text x="1276.5" y="829" font-size="52.5" text-anchor="end" fill="#000" font-weight="bold">36</text>
<line x1="1286.6" y1="1375.2" x2="1292.6" y2="1375.2" stroke="#000" stroke-width="4.4" stroke-linecap="butt"/>
<line x1="1286.6" y1="1250.4" x2="1292.6" y2="1250.4" stroke="#000" stroke-width="4.4" stroke-linecap="butt"/>
<line x1="1286.6" y1="1125.6" x2="1292.6" y2="1125.6" stroke="#000" stroke-width="4.4" stroke-linecap="butt"/>
<line x1="1286.6" y1="1000.8" x2="1292.6" y2="1000.8" stroke="#000" stroke-width="4.4" stroke-linecap="butt"/>
<line x1="1286.6" y1="876" x2="1292.6" y2="876" stroke="#000" stroke-width="4.4" stroke-linecap="butt"/>
<text x="1286.6" y="1493.2" font-size="52.5" text-anchor="middle" fill="#000" font-weight="bold">730</text>
<line x1="1406.64" y1="1437.6" x2="1406.64" y2="1425.2" stroke="#000" stroke-width="4.4" stroke-linecap="butt"/>
<text x="1406.64" y="1493.2" font-size="52.5" text-anchor="middle" fill="#000" font-weight="bold">740</text>
<line x1="1526.68" y1="1437.6" x2="1526.68" y2="1425.2" stroke="#000" stroke-width="4.4" stroke-linecap="butt"/>
<text x="1526.68" y="1493.2" font-size="52.5" text-anchor="middle" fill="#000" font-weight="bold">750</text>
<line x1="1646.72" y1="1437.6" x2="1646.72" y2="1425.2" stroke="#000" stroke-width="4.4" stroke-linecap="butt"/>
<text x="1646.72" y="1493.2" font-size="52.5" text-anchor="middle" fill="#000" font-weight="bold">760</text>
<line x1="1766.76" y1="1437.6" x2="1766.76" y2="1425.2" stroke="#000" stroke-width="4.4" stroke-linecap="butt"/>
<text x="1766.76" y="1493.2" font-size="52.5" text-anchor="middle" fill="#000" font-weight="bold">770</text>
<line x1="1886.8" y1="1437.6" x2="1886.8" y2="1425.2" stroke="#000" stroke-width="4.4" stroke-linecap="butt"/>
<text x="1886.8" y="1493.2" font-size="52.5" text-anchor="middle" fill="#000" font-weight="bold">780</text>
<line x1="2006.84" y1="1437.6" x2="2006.84" y2="1425.2" stroke="#000" stroke-width="4.4" stroke-linecap="butt"/>
<text x="2006.84" y="1493.2" font-size="52.5" text-anchor="middle" fill="#000" font-weight="bold">790</text>
<text x="2126.88" y="1493.2" font-size="52.5" text-anchor="middle" fill="#000" font-weight="bold">800</text>
<polygon points="1778.76,1102.85 1795.76,1132.29 1761.76,1132.29" fill="#fff" stroke="#4D4D4D" stroke-width="1.7" stroke-linejoin="round"/>
<polygon points="1778.76,1102.85 1790.1,1122.48 1767.43,1122.48" fill="#4D4D4D" stroke="none" stroke-width="0"/>
<polygon points="1886.8,1139.98 1903.8,1169.42 1869.8,1169.42" fill="#fff" stroke="#FF8000" stroke-width="1.7" stroke-linejoin="round"/>
<polygon points="1886.8,1139.98 1903.8,1169.42 1886.8,1169.42" fill="#FF8000" stroke="none" stroke-width="0"/>
<polygon points="1658.72,1042.95 1675.72,1072.39 1641.72,1072.39" fill="#fff" stroke="#0066DD" stroke-width="1.7" stroke-linejoin="round"/>
<polygon points="1647.39,1062.58 1670.06,1062.58 1675.72,1072.39 1641.72,1072.39" fill="#0066DD" stroke="none" stroke-width="0"/>
<polygon points="1694.74,1196.76 1711.74,1226.21 1677.74,1226.21" fill="#fff" stroke="#00AA66" stroke-width="1.7" stroke-linejoin="round"/>
<polygon points="1694.74,1196.76 1694.74,1226.21 1677.74,1226.21" fill="#00AA66" stroke="none" stroke-width="0"/>
<polygon points="2013.85,1368.51 2047.85,1368.51 2030.85,1397.95" fill="#fff" stroke="#BB77DD" stroke-width="1.7" stroke-linejoin="round"/>
<polygon points="2013.85,1368.51 2047.85,1368.51 2042.18,1378.32 2019.51,1378.32" fill="#BB77DD" stroke="none" stroke-width="0"/>
<polygon points="2025.85,1299.87 2059.85,1299.87 2042.85,1329.31" fill="#fff" stroke="#DD9900" stroke-width="1.7" stroke-linejoin="round"/>
<polygon points="2042.85,1299.87 2059.85,1299.87 2042.85,1329.31" fill="#DD9900" stroke="none" stroke-width="0"/>
<polygon points="1821.78,1178.19 1855.78,1178.19 1838.78,1207.63" fill="#fff" stroke="#00CCCC" stroke-width="1.7" stroke-linejoin="round"/>
<polygon points="1827.45,1188 1850.12,1188 1838.78,1207.63" fill="#00CCCC" stroke="none" stroke-width="0"/>
<polygon points="1977.84,1271.47 2011.84,1271.47 1994.84,1300.92" fill="#fff" stroke="#8B5050" stroke-width="1.7" stroke-linejoin="round"/>
<polygon points="1977.84,1271.47 1994.84,1271.47 1994.84,1300.92" fill="#8B5050" stroke="none" stroke-width="0"/>
<polygon points="1387.01,990.82 1416.45,973.82 1416.45,1007.82" fill="#fff" stroke="#8C8C10" stroke-width="1.7" stroke-linejoin="round"/>
<polygon points="1387.01,990.82 1416.45,973.82 1416.45,990.82" fill="#8C8C10" stroke="none" stroke-width="0"/>
<polygon points="1351,1309.37 1380.44,1292.37 1380.44,1326.37" fill="#fff" stroke="#FF6400" stroke-width="1.7" stroke-linejoin="round"/>
<polygon points="1370.63,1298.03 1380.44,1292.37 1380.44,1326.37 1370.63,1320.7" fill="#FF6400" stroke="none" stroke-width="0"/>
<polygon points="1687.11,1250.71 1716.55,1233.71 1716.55,1267.71" fill="#fff" stroke="#4499D0" stroke-width="1.7" stroke-linejoin="round"/>
<polygon points="1687.11,1250.71 1716.55,1250.71 1716.55,1267.71" fill="#4499D0" stroke="none" stroke-width="0"/>
<polygon points="1987.21,1372.08 2016.65,1355.08 2016.65,1389.08" fill="#fff" stroke="#33BB11" stroke-width="1.7" stroke-linejoin="round"/>
<polygon points="1987.21,1372.08 2006.84,1360.75 2006.84,1383.41" fill="#33BB11" stroke="none" stroke-width="0"/>
<polygon points="2050.48,962.11 2021.03,979.11 2021.03,945.11" fill="#fff" stroke="#4D4D4D" stroke-width="1.7" stroke-linejoin="round"/>
<polygon points="2021.03,945.11 2050.48,962.11 2021.03,962.11" fill="#4D4D4D" stroke="none" stroke-width="0"/>
<polygon points="1850.79,1132.86 1855.61,1143.93 1867.62,1145.09 1858.59,1153.09 1861.19,1164.88 1850.79,1158.76 1840.38,1164.88 1842.99,1153.09 1833.95,1145.09 1845.97,1143.93" fill="#FF3344" stroke="none" stroke-width="0"/>
<polygon points="1462.7,824.37 1475.2,846.02 1450.2,846.02" fill="#fff" stroke="#4D4D4D" stroke-width="1.4" stroke-linejoin="round"/>
<polygon points="1462.7,824.37 1471.03,838.8 1454.37,838.8" fill="#4D4D4D" stroke="none" stroke-width="0"/>
<text x="1490.4" y="845.4" font-size="20.5" text-anchor="start" fill="#000" font-weight="bold">NBN-LiCe-W [ref. 17]</text>
<polygon points="1462.7,850.07 1475.2,871.72 1450.2,871.72" fill="#fff" stroke="#FF8000" stroke-width="1.4" stroke-linejoin="round"/>
<polygon points="1462.7,850.07 1475.2,871.72 1462.7,871.72" fill="#FF8000" stroke="none" stroke-width="0"/>
<text x="1490.4" y="871.1" font-size="20.5" text-anchor="start" fill="#000" font-weight="bold">NBN-CoW [ref. 16]</text>
<polygon points="1462.7,875.77 1475.2,897.42 1450.2,897.42" fill="#fff" stroke="#0066DD" stroke-width="1.4" stroke-linejoin="round"/>
<polygon points="1454.37,890.2 1471.03,890.2 1475.2,897.42 1450.2,897.42" fill="#0066DD" stroke="none" stroke-width="0"/>
<text x="1490.4" y="896.8" font-size="20.5" text-anchor="start" fill="#000" font-weight="bold">NBN-LiCe-CoW [ref. 44]</text>
<polygon points="1462.7,901.47 1475.2,923.12 1450.2,923.12" fill="#fff" stroke="#00AA66" stroke-width="1.4" stroke-linejoin="round"/>
<polygon points="1462.7,901.47 1462.7,923.12 1450.2,923.12" fill="#00AA66" stroke="none" stroke-width="0"/>
<text x="1490.4" y="922.5" font-size="20.5" text-anchor="start" fill="#000" font-weight="bold">NBN-WMn [ref. 10]</text>
<polygon points="1450.2,934.38 1475.2,934.38 1462.7,956.03" fill="#fff" stroke="#BB77DD" stroke-width="1.4" stroke-linejoin="round"/>
<polygon points="1450.2,934.38 1475.2,934.38 1471.03,941.6 1454.37,941.6" fill="#BB77DD" stroke="none" stroke-width="0"/>
<text x="1490.4" y="948.2" font-size="20.5" text-anchor="start" fill="#000" font-weight="bold">NBN-W [ref. 14]</text>
<polygon points="1450.2,960.08 1475.2,960.08 1462.7,981.73" fill="#fff" stroke="#DD9900" stroke-width="1.4" stroke-linejoin="round"/>
<polygon points="1462.7,960.08 1475.2,960.08 1462.7,981.73" fill="#DD9900" stroke="none" stroke-width="0"/>
<text x="1490.4" y="973.9" font-size="20.5" text-anchor="start" fill="#000" font-weight="bold">NBN-Co [ref. 15]</text>
<polygon points="1450.2,985.78 1475.2,985.78 1462.7,1007.43" fill="#fff" stroke="#00CCCC" stroke-width="1.4" stroke-linejoin="round"/>
<polygon points="1454.37,993 1471.03,993 1462.7,1007.43" fill="#00CCCC" stroke="none" stroke-width="0"/>
<text x="1490.4" y="999.6" font-size="20.5" text-anchor="start" fill="#000" font-weight="bold">NBN-Ce-Ta [ref. 45]</text>
<polygon points="1723.3,829.38 1748.3,829.38 1735.8,851.03" fill="#fff" stroke="#8B5050" stroke-width="1.4" stroke-linejoin="round"/>
<polygon points="1723.3,829.38 1735.8,829.38 1735.8,851.03" fill="#8B5050" stroke="none" stroke-width="0"/>
<text x="1763.6" y="843.4" font-size="20.5" text-anchor="start" fill="#000" font-weight="bold">NBN-LiNbO<tspan font-size="13" dy="4">3</tspan><tspan dy="-4"> [ref. 46]</tspan></text>
<polygon points="1721.17,865.9 1742.82,853.4 1742.82,878.4" fill="#fff" stroke="#8C8C10" stroke-width="1.4" stroke-linejoin="round"/>
<polygon points="1721.17,865.9 1742.82,853.4 1742.82,865.9" fill="#8C8C10" stroke="none" stroke-width="0"/>
<text x="1763.6" y="873.3" font-size="20.5" text-anchor="start" fill="#000" font-weight="bold">NBN-LiCeNd [ref. 11]</text>
<polygon points="1721.17,891.6 1742.82,879.1 1742.82,904.1" fill="#fff" stroke="#FF6400" stroke-width="1.4" stroke-linejoin="round"/>
<polygon points="1735.6,883.27 1742.82,879.1 1742.82,904.1 1735.6,899.93" fill="#FF6400" stroke="none" stroke-width="0"/>
<text x="1763.6" y="899" font-size="20.5" text-anchor="start" fill="#000" font-weight="bold">NBN-Li-LaNd [ref. 13]</text>
<polygon points="1721.17,917.3 1742.82,904.8 1742.82,929.8" fill="#fff" stroke="#4499D0" stroke-width="1.4" stroke-linejoin="round"/>
<polygon points="1721.17,917.3 1742.82,917.3 1742.82,929.8" fill="#4499D0" stroke="none" stroke-width="0"/>
<text x="1763.6" y="924.7" font-size="20.5" text-anchor="start" fill="#000" font-weight="bold">NBN-LiCe-Sb [ref. 47]</text>
<polygon points="1721.17,943 1742.82,930.5 1742.82,955.5" fill="#fff" stroke="#33BB11" stroke-width="1.4" stroke-linejoin="round"/>
<polygon points="1721.17,943 1735.6,934.67 1735.6,951.33" fill="#33BB11" stroke="none" stroke-width="0"/>
<text x="1763.6" y="950.4" font-size="20.5" text-anchor="start" fill="#000" font-weight="bold">NBN-Ca-Sb [ref. 12]</text>
<polygon points="1750.03,968.7 1728.38,981.2 1728.38,956.2" fill="#fff" stroke="#4D4D4D" stroke-width="1.4" stroke-linejoin="round"/>
<polygon points="1728.38,956.2 1750.03,968.7 1728.38,968.7" fill="#4D4D4D" stroke="none" stroke-width="0"/>
<text x="1763.6" y="976.1" font-size="20.5" text-anchor="start" fill="#000" font-weight="bold">NBN (SPS method) [ref. 9]</text>
<polygon points="1735.7,983.4 1738.99,991.07 1747.3,991.83 1741.03,997.33 1742.87,1005.47 1735.7,1001.2 1728.53,1005.47 1730.37,997.33 1724.1,991.83 1732.41,991.07" fill="#FF3344" stroke="none" stroke-width="0"/>
<text x="1763.6" y="1001.8" font-size="20.5" text-anchor="start" fill="#000" font-weight="bold">NBN-LiSm [This work]</text>
<text x="1311" y="867.7" font-size="47" text-anchor="start" fill="#000" font-weight="bold">(d)</text>
<text x="1637.6" y="1541.9" font-size="52" font-weight="bold" fill="#000"><tspan font-style="italic">T</tspan><tspan dx="-2" dy="14" font-size="50">c</tspan><tspan dy="-14" font-size="50.5"> (°C)</tspan></text>
<text transform="translate(1200,1132.4) rotate(-90)" text-anchor="middle" font-size="51" font-weight="bold" fill="#000"><tspan font-style="italic">d</tspan><tspan font-size="36" dx="-2" dy="13">33</tspan><tspan dy="-13"> (pC/N)</tspan></text>
<rect x="1286.6" y="813.3" width="840.8" height="624.3" fill="none" stroke="#000" stroke-width="4.6" stroke-linejoin="miter"/>
</svg>
</body></html>
